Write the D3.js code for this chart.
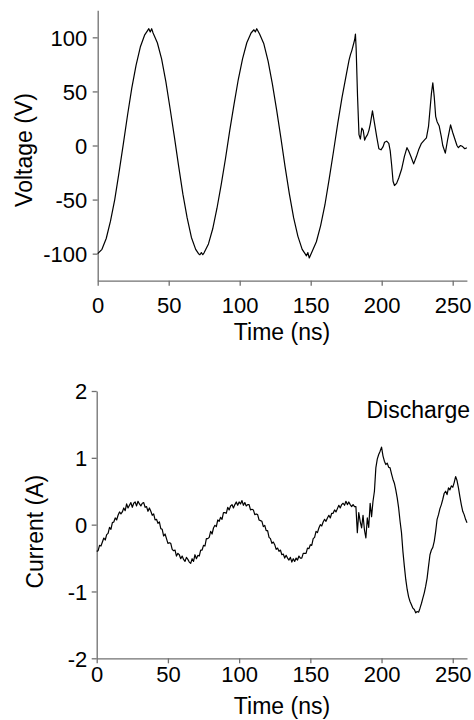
<!DOCTYPE html>
<html>
<head>
<meta charset="utf-8">
<script src="https://cdn.jsdelivr.net/npm/d3@7"></script>
<style>
  body { margin: 0; background: #fff; }
  text { font-family: "Liberation Sans", Arial, sans-serif; fill: #000; }
</style>
</head>
<body>
<svg id="chart" width="474" height="720"></svg>
<script>
// tick labels
const timeTicks = [0, 50, 100, 150, 200, 250]
const voltTicks = [-100, -50, 0, 50, 100]
const currTicks = [-2, -1, 0, 1, 2]

// voltage trace (ns, V)
const voltTime = [0,3,6,9,12,15,18,21,24,27,30,33,35,36,37,38,39,42,45,48,51,54,57,60,63,66,69,71,72,73,74,75,
  78,81,84,87,90,93,96,99,102,105,108,110,111,112,114,117,120,123,126,129,132,135,138,141,144,146,147,148,149,
  151,154,157,160,163,166,169,172,175,177,178,179,181,181.5,182,183,184,185,186,187,188,189,190,191,192,193.5,
  195,196.5,198,199.5,201,202,203.5,205,206,207,208,209,210.5,212,214,216,217.8,219,220.5,222.5,224.5,226,228,
  230,231.5,233,234,235,236,237,238,239,240.5,242,243,244.8,246.5,248.5,250,251.5,253,254,255.5,257,258.5,260]
const voltValues = [-100,-96,-86,-70,-50,-25,1,28,53,74,91,102,106,108,105,108,104,95,80,59,34,8,-19,-45,-67,-85,-96,-100,-101,-99,-101,-99,
  -91,-77,-58,-36,-12,14,38,61,80,95,104,107,105,108,103,94,78,57,33,7,-20,-45,-67,-84,-96,-100,-102,-99,-104,
  -98,-89,-74,-55,-31,-6,20,44,65,79,84,88,98,103,90,45,10,6,16,14,5,8,10,14,20,32,
  20,8,-3,-4,-1,3,4,2,-5,-18,-33,-37,-35,-30,-22,-10,-2,-5,-10,-17,-10,-4,2,
  5,7,18,33,48,58,45,27,22,18,8,0,-7,6,19,12,6,0,-2,0,-1,-3,-2]

// current trace (A), one sample per ns from 0 to 260 ns
const currStep = 1
const currValues = [
  -0.40,-0.39,-0.31,-0.32,-0.26,-0.20,-0.23,-0.15,-0.13,-0.04,-0.07,0.03,0.04,0.10,0.07,0.14,0.19,0.16,0.19,0.25,
  0.21,0.31,0.25,0.29,0.33,0.26,0.32,0.34,0.28,0.35,0.31,0.28,0.32,0.33,0.26,0.27,0.20,0.25,0.20,0.14,
  0.16,0.07,0.08,0.02,0.04,-0.06,-0.07,-0.17,-0.14,-0.21,-0.28,-0.27,-0.28,-0.37,-0.39,-0.38,-0.47,-0.43,-0.45,-0.51,
  -0.47,-0.52,-0.55,-0.49,-0.52,-0.56,-0.58,-0.51,-0.55,-0.45,-0.51,-0.46,-0.47,-0.38,-0.38,-0.31,-0.32,-0.21,-0.21,-0.19,
  -0.10,-0.14,-0.05,-0.01,-0.03,0.07,0.05,0.11,0.08,0.18,0.18,0.17,0.26,0.22,0.28,0.30,0.25,0.30,0.34,0.29,
  0.34,0.31,0.36,0.29,0.33,0.28,0.30,0.30,0.22,0.23,0.22,0.15,0.16,0.15,0.07,0.06,0.05,-0.03,-0.01,-0.09,
  -0.09,-0.19,-0.21,-0.28,-0.26,-0.30,-0.37,-0.35,-0.40,-0.38,-0.45,-0.44,-0.50,-0.46,-0.50,-0.53,-0.49,-0.56,-0.51,-0.55,
  -0.50,-0.53,-0.47,-0.50,-0.50,-0.43,-0.43,-0.43,-0.35,-0.36,-0.30,-0.31,-0.21,-0.19,-0.10,-0.12,-0.05,0.00,-0.02,0.04,
  0.08,0.05,0.10,0.14,0.10,0.17,0.17,0.22,0.19,0.24,0.29,0.25,0.30,0.32,0.29,0.35,0.30,0.34,0.30,0.27,
  0.30,0.27,0.27,-0.12,0.18,0.05,-0.05,0.14,-0.08,-0.20,0.10,-0.04,0.32,0.12,0.35,0.50,0.85,0.98,1.05,1.10,
  1.16,1.03,0.95,0.90,0.92,0.86,0.85,0.76,0.68,0.62,0.52,0.40,0.25,0.05,-0.12,-0.40,-0.62,-0.82,-0.97,-1.08,
  -1.15,-1.20,-1.25,-1.27,-1.32,-1.30,-1.31,-1.25,-1.18,-1.10,-1.02,-0.92,-0.80,-0.62,-0.45,-0.38,-0.34,-0.25,-0.10,0.08,
  0.15,0.24,0.30,0.38,0.47,0.50,0.45,0.55,0.52,0.58,0.56,0.63,0.72,0.66,0.55,0.42,0.30,0.20,0.15,0.08,
  0.03]

const svg = d3.select('#chart')

function Panel(cfg){
    const x = d3.scaleLinear().domain([0, 260]).range(cfg.xRange),
          y = d3.scaleLinear().domain(cfg.yDomain).range(cfg.yRange)

    const xAxis = svg.append('g')
        .attr('transform', `translate(0,${cfg.yRange[0]})`)
        .call(d3.axisBottom(x).tickValues(timeTicks).tickFormat(d3.format('d'))
              .tickSize(5).tickSizeOuter(0).tickPadding(cfg.xPad))
    const yAxis = svg.append('g')
        .attr('transform', `translate(${cfg.xRange[0]},0)`)
        .call(d3.axisLeft(y).tickValues(cfg.yTicks).tickFormat(d3.format('d'))
              .tickSize(5).tickSizeOuter(0).tickPadding(cfg.yPad))

    ;[xAxis, yAxis].forEach(a => {
        a.select('.domain').attr('stroke', '#707070').attr('stroke-width', 1.3)
        a.selectAll('.tick line').attr('stroke', '#707070').attr('stroke-width', 1.3)
        a.selectAll('.tick text').attr('font-size', 22).attr('fill', '#000')
          .attr('font-family', '"Liberation Sans", Arial, sans-serif')
    })
    xAxis.selectAll('.tick text').attr('dy', '0.71em')
    yAxis.selectAll('.tick text').attr('dy', '0.36em').text(d => d < 0 ? '-' + Math.abs(d) : d)

    const line = d3.line().x(d => x(d[0])).y(d => y(d[1]))
    svg.append('path')
       .datum(cfg.data)
       .attr('fill', 'none')
       .attr('stroke', '#000')
       .attr('stroke-width', 1.2)
       .attr('stroke-linejoin', 'round')
       .attr('d', line)

    svg.append('text')
       .attr('font-size', 23)
       .attr('text-anchor', 'middle')
       .attr('x', cfg.xTitle[0])
       .attr('y', cfg.xTitle[1])
       .text('Time (ns)')

    svg.append('text')
       .attr('font-size', 23)
       .attr('text-anchor', 'middle')
       .attr('transform', `translate(${cfg.yTitle[0]},${cfg.yTitle[1]}) rotate(-90)`)
       .text(cfg.yLabel)
    return {x, y}
}

Panel({
    xRange: [97.7, 466.9], yRange: [280.7, 10.3], yDomain: [-125, 125],
    yTicks: voltTicks, xPad: 12, yPad: 5.5,
    data: voltTime.map((t, i) => [t, voltValues[i]]),
    xTitle: [282, 340], yTitle: [31.5, 150], yLabel: 'Voltage (V)'
})

Panel({
    xRange: [96.7, 467], yRange: [658.3, 391], yDomain: [-2, 2],
    yTicks: currTicks, xPad: 3, yPad: 4.5,
    data: currValues.map((v, i) => [i * currStep, v]),
    xTitle: [282, 714], yTitle: [42.5, 531.7], yLabel: 'Current (A)'
})

svg.append('text')
   .attr('font-size', 23)
   .attr('text-anchor', 'end')
   .attr('x', 470)
   .attr('y', 418)
   .text('Discharge')
</script>
</body>
</html>
